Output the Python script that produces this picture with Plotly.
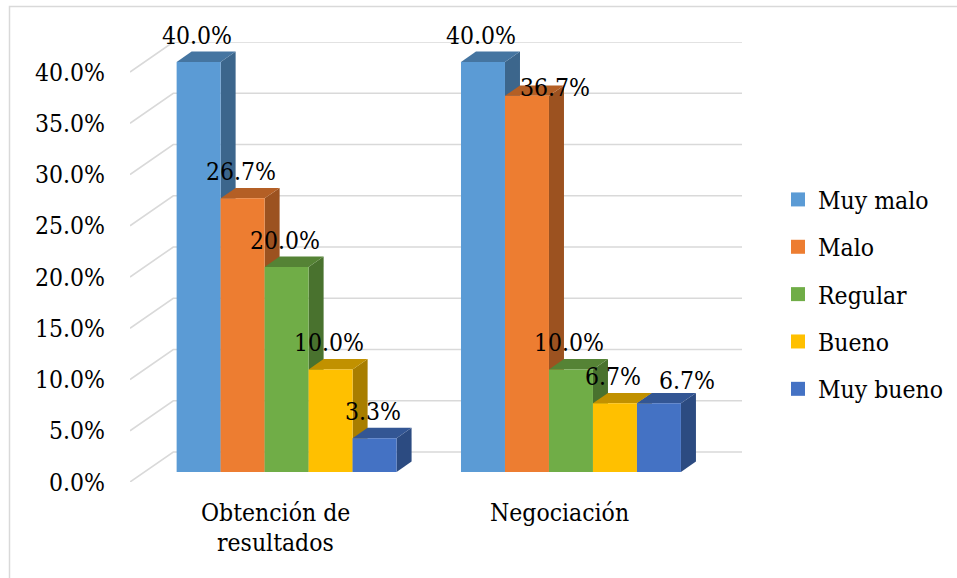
import plotly.graph_objects as go

# ---- data -------------------------------------------------------------
categories = ["Obtención de<br>resultados", "Negociación"]
series = ["Muy malo", "Malo", "Regular", "Bueno", "Muy bueno"]
muy_malo = [40.0, 40.0]
malo = [26.7, 36.7]
regular = [20.0, 10.0]
bueno = [10.0, 6.7]
muy_bueno = [3.3, 6.7]
values = [muy_malo, malo, regular, bueno, muy_bueno]
y_ticks = [0, 5, 10, 15, 20, 25, 30, 35, 40]

# ---- style ------------------------------------------------------------
colors = ["#5B9BD5", "#ED7D31", "#70AD47", "#FFC000", "#4472C4"]
FONT = "DejaVu Serif Condensed, DejaVu Serif"
FS = 24.5
GRID = "#d9d9d9"

# oblique projection of the depth axis (in data units)
DX = 0.1522          # category units per full depth
DY = 2.93            # percent units per full depth
F_D, B_D = 1 / 3, 0.68   # bar front/back depth fractions
BAR_W = 0.1547       # bar width in category units
Y_MAX = 40

# label nudges (pixels) for labels moved aside to avoid overlap
label_nudge = {(1, 1): (30, -19), (1, 4): (30, -4)}


def shade(hex_color, k):
    h = hex_color.lstrip("#")
    r, g, b = (int(h[i:i + 2], 16) for i in (0, 2, 4))
    return "#%02x%02x%02x" % (int(r * k), int(g * k), int(b * k))


fig = go.Figure()

# back wall gridlines plus the diagonal side-wall lines
gx, gy = [], []
for t in y_ticks:
    gx += [0, DX, len(categories) + DX, None]
    gy += [t, t + DY, t + DY, None]
fig.add_trace(go.Scatter(x=gx, y=gy, mode="lines", line=dict(color=GRID, width=1.6),
                         hoverinfo="skip", showlegend=False))

annotations = []
n = len(series)
for ci in range(len(categories)):
    for si in range(n):
        v = values[si][ci]
        c = colors[si]
        xl = ci + 0.5 - n * BAR_W / 2 + si * BAR_W
        xr = xl + BAR_W
        fx, fy = F_D * DX, F_D * DY
        bx, by = B_D * DX, B_D * DY
        faces = [
            # side face
            ([xr + fx, xr + fx, xr + bx, xr + bx, xr + fx],
             [fy, v + fy, v + by, by, fy], shade(c, 0.66)),
            # top face
            ([xl + fx, xr + fx, xr + bx, xl + bx, xl + fx],
             [v + fy, v + fy, v + by, v + by, v + fy], shade(c, 0.76)),
            # front face
            ([xl + fx, xr + fx, xr + fx, xl + fx, xl + fx],
             [fy, fy, v + fy, v + fy, fy], c),
        ]
        for px, py, col in faces:
            fig.add_trace(go.Scatter(x=px, y=py, mode="lines", fill="toself",
                                     fillcolor=col, line=dict(width=0, color=col),
                                     legendgroup=series[si], showlegend=False,
                                     hoverinfo="skip"))
        nx, ny = label_nudge.get((ci, si), (0, 0))
        annotations.append(dict(
            x=(xl + xr) / 2 + fx, y=v + by, xref="x", yref="y",
            text=f"{v:.1f}%", showarrow=False, yanchor="bottom", xanchor="center",
            xshift=-2 + nx, yshift=ny, font=dict(family=FONT, size=FS, color="#000000")))

# legend entries
for si, name in enumerate(series):
    fig.add_trace(go.Scatter(x=[None], y=[None], mode="markers", name=name,
                             legendgroup=name,
                             marker=dict(symbol="square", size=14, color=colors[si])))

# category labels, one annotation per line
for ci, cat in enumerate(categories):
    for li, line in enumerate(cat.split("<br>")):
        annotations.append(dict(
            x=ci + 0.5 + 0.01, y=0, xref="x", yref="y", text=line, showarrow=False,
            yanchor="top", xanchor="center", yshift=-14 - 30 * li,
            font=dict(family=FONT, size=FS, color="#000000")))

L, R, T, B = 130, 215, 42, 96
W, H = 957, 578
pw, ph = W - L - R, H - T - B

fig.update_layout(
    width=W, height=H,
    margin=dict(l=L, r=R, t=T, b=B, pad=0, autoexpand=False),
    paper_bgcolor="white", plot_bgcolor="white",
    font=dict(family=FONT, size=FS, color="#000000"),
    xaxis=dict(range=[0, len(categories) + DX], showgrid=False, zeroline=False,
               showline=False, showticklabels=False, fixedrange=True),
    yaxis=dict(range=[0, Y_MAX + DY], tickvals=y_ticks,
               ticktext=[f"{t:.1f}%" for t in y_ticks],
               showgrid=False, zeroline=False, showline=False,
               ticks="", ticklabelstandoff=24, fixedrange=True,
               tickfont=dict(family=FONT, size=FS, color="#000000")),
    legend=dict(x=(778 - L) / pw, xanchor="left", y=(H - B - 177) / ph, yanchor="top",
                traceorder="grouped", tracegroupgap=12.5,
                font=dict(family=FONT, size=FS, color="#000000"),
                bgcolor="rgba(0,0,0,0)"),
    annotations=annotations,
    shapes=[dict(type="rect", xref="paper", yref="paper",
                 x0=(9.5 - L) / pw, x1=(W + 5 - L) / pw,
                 y0=(H - B - (H + 5)) / ph, y1=(H - B - 6.5) / ph,
                 line=dict(color=GRID, width=1.5), layer="below")],
    showlegend=True,
)

fig.write_html("out.html")
